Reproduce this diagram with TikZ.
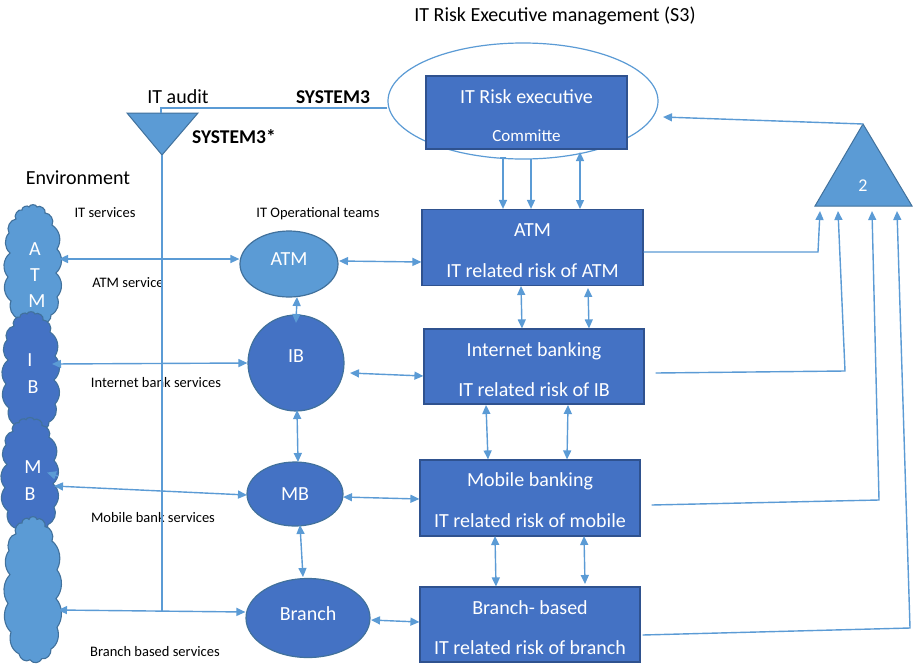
\documentclass[tikz,border=0pt]{standalone}
\usepackage{fontspec}
\setmainfont{Carlito}
\usetikzlibrary{arrows.meta,shapes.geometric,calc}
\definecolor{lblue}{HTML}{5B9BD5}
\definecolor{dblue}{HTML}{4472C4}
\definecolor{bedge}{HTML}{2F528F}
\definecolor{eedge}{HTML}{41719C}
\definecolor{conn}{HTML}{5B9BD5}
\begin{document}
\begin{tikzpicture}[x=1pt,y=-1pt,
  conline/.style={draw=conn,line width=1.4pt},
  arr/.style={conline,-{Triangle[length=9pt,width=8pt]}},
  darr/.style={conline,{Triangle[length=9pt,width=8pt]}-{Triangle[length=9pt,width=8pt]}},
  riskbox/.style={rectangle,draw=bedge,line width=1.2pt,fill=dblue,
    minimum width=220,minimum height=75,inner sep=0},
  boxtxt/.style={text=white,inner sep=0,text height=13pt,text depth=0pt,
    font=\fontsize{20}{24}\selectfont},
  team/.style={ellipse,draw=eedge,line width=1.2pt,text=white,inner sep=0,
    font=\fontsize{20}{24}\selectfont},
  cloudtxt/.style={text=white,font=\fontsize{20}{24}\selectfont,inner sep=0},
  small/.style={font=\fontsize{14.5}{17}\selectfont,inner sep=0},
  big/.style={font=\fontsize{20}{24}\selectfont,inner sep=0},
  heading/.style={font=\fontsize{19.5}{24}\selectfont\bfseries,inner sep=0},
  envcloud/.pic={
    \draw[pic actions] (-17,-46) to[bend left=80] (-11,-55) to[bend left=80] (-4,-58)
      to[bend left=80] (4,-58) to[bend left=80] (12,-52) to[bend left=60] (19,-40)
      to[bend left=45] (24,-16) to[bend left=45] (23,8) to[bend left=45] (24,32)
      to[bend left=45] (18,50) to[bend left=55] (9,58) to[bend left=55] (-3,59)
      to[bend left=55] (-14,54) to[bend left=45] (-22,36) to[bend left=45] (-25,12)
      to[bend left=45] (-23,-12) to[bend left=45] (-24,-32) to[bend left=55] (-17,-46) -- cycle;
  }]
\useasboundingbox (0,0) rectangle (915,670);
\fill[white] (0,0) rectangle (915,670);

% ---- environment clouds (each lower cloud overlaps the one above) ----
\begin{scope}[draw=eedge,line width=1.1pt]
  \pic[fill=lblue] at (33,265) {envcloud};
  \pic[fill=dblue] at (31,372) {envcloud};
  \pic[fill=dblue,yscale=0.97] at (30,476) {envcloud};
  \pic[fill=lblue,yscale=1.2] at (33,589) {envcloud};
\end{scope}
\node[cloudtxt] (la) at (35,249) {A};
\node[cloudtxt] (lt) at (35,275) {T};
\node[cloudtxt] (lm) at (37,301) {M};
\node[cloudtxt] (li) at (30,360) {I};
\node[cloudtxt] (lb) at (33,387) {B};
\node[cloudtxt] (lm2) at (33,467) {M};
\node[cloudtxt] (lb2) at (30,494) {B};

% ---- executive committee ----
\node[big] (title) at (555,16) {IT Risk Executive management (S3)};
\node[ellipse,draw=conn,line width=1.2pt,minimum width=270,minimum height=116,inner sep=0] (exell) at (523,101) {};
\node[riskbox,minimum width=201,minimum height=73] (exec) at (526.5,112.5) {};
\node[boxtxt] (exec1) at ($(exec.center)+(0,-15.5)$) {IT Risk executive};
\node[boxtxt,font=\fontsize{17}{20}\selectfont,text height=11pt] (exec2) at ($(exec.center)+(0,23.5)$) {Committe};

% ---- IT audit (System 3*) ----
\coordinate (audtl) at (127,113);
\coordinate (audtr) at (198,113);
\coordinate (audtip) at (162,155);
\coordinate (audtop) at (161,108);
\draw[draw=eedge,fill=lblue,line width=1pt] (audtl) -- (audtr) -- (audtip) -- cycle;
\node[big] (audit) at (178,97) {IT audit};
\node[heading] (s3) at (333,97) {SYSTEM3};
\node[heading] (s3s) at (234,137) {SYSTEM3*};
\draw[conline,line width=1.2pt] (exell.west |- 0,108) -- (audtop) -- ($(audtop)+(0,5)$);

% ---- labels ----
\node[big] (envlbl) at (78,178) {Environment};
\node[small] (itsv) at (105,213) {IT services};
\node[small] (optm) at (318,214) {IT Operational teams};
\node[small] (atmsv) at (128,283) {ATM service};
\node[small] (ibsv) at (156,383) {Internet bank services};
\node[small] (mbsv) at (153,518) {Mobile bank services};
\node[small] (brsv) at (155,652) {Branch based services};

% ---- IT operational teams ----
\node[team,fill=lblue,minimum width=98,minimum height=66] (tatm) at (289,264) {\raisebox{10pt}{ATM}};
\node[team,fill=dblue,minimum width=96,minimum height=96] (tib) at (296,363) {\raisebox{14pt}{IB}};
\node[team,fill=dblue,minimum width=96,minimum height=64] (tmb) at (295,494) {MB};
\node[team,fill=dblue,minimum width=124,minimum height=79] (tbr) at (308,618) {\raisebox{8pt}{Branch}};

% ---- risk boxes ----
\node[riskbox,minimum width=221,minimum height=76] (ratm) at (532.5,247.5) {};
\node[boxtxt] (ratm1) at ($(ratm.center)+(0,-17.5)$) {ATM};
\node[boxtxt] (ratm2) at ($(ratm.center)+(0,23.5)$) {IT related risk of ATM};
\node[riskbox] (rib) at (534,366.5) {};
\node[boxtxt] (rib1) at ($(rib.center)+(0,-16.5)$) {Internet banking};
\node[boxtxt] (rib2) at ($(rib.center)+(0,23.5)$) {IT related risk of IB};
\node[riskbox,minimum height=76] (rmb) at (530,498) {};
\node[boxtxt] (rmb1) at ($(rmb.center)+(0,-18)$) {Mobile banking};
\node[boxtxt] (rmb2) at ($(rmb.center)+(0,22.5)$) {IT related risk of mobile};
\node[riskbox] (rbr) at (530,624.5) {};
\node[boxtxt] (rbr1) at ($(rbr.center)+(0,-17)$) {Branch- based};
\node[boxtxt] (rbr2) at ($(rbr.center)+(0,23)$) {IT related risk of branch};

% ---- System 2 (coordination) ----
\coordinate (tritop) at (863,124);
\coordinate (tribl) at (815,206);
\coordinate (tribr) at (912,206);
\draw[draw=eedge,fill=lblue,line width=1pt] (tritop) -- (tribr) -- (tribl) -- cycle;
\node[text=white,font=\fontsize{18}{22}\selectfont,inner sep=0] (two) at (863,186) {2};
\draw[arr] (tritop) -- (663,117);

% ---- audit channel ----
\draw[conline,line width=1.2pt] (audtip) -- (162,611);

% ---- environment <-> teams ----
\draw[darr] (59,259) -- (tatm.west |- 0,259);
\draw[darr] (52,364) -- (tib.west |- 0,363);
\draw[darr] (54,486) -- (247,495);
\draw[arr] (58,476) -- (47,472.5);
\draw[darr] (58,610) -- (tbr.west |- 0,612);

% ---- teams among themselves ----
\draw[darr] (297,297) -- (296,323);
\draw[darr] (297,410) -- (298,462);
\draw[darr] (300,525) -- (303,577);

% ---- teams <-> risk boxes ----
\draw[darr] (339,261) -- (ratm.west |- 0,262);
\draw[darr] (350,373) -- (rib.west |- 0,376);
\draw[darr] (343,497) -- (rmb.west |- 0,499);
\draw[darr] (371,620) -- (rbr.west |- 0,622);

% ---- executive <-> ATM risk ----
\draw[conline,line width=1.2pt] (500,158) -- (506,158);
\draw[arr] (503,158) -- (503,0 |- ratm.north);
\draw[arr] (531,159) -- (531,0 |- ratm.north);
\draw[darr] (580,152) -- (580,209);

% ---- between risk boxes ----
\draw[darr] (521,286) -- (522,0 |- rib.north);
\draw[darr] (588,288) -- (589,0 |- rib.north);
\draw[darr] (486,405) -- (488,0 |- rmb.north);
\draw[darr] (568,405) -- (567,0 |- rmb.north);
\draw[darr] (495,536) -- (496,0 |- rbr.north);
\draw[darr] (584,536) -- (585,584);

% ---- risk boxes -> System 2 ----
\draw[arr] (ratm.east |- 0,252) -- (818,252) -- (820,211);
\draw[arr] ($(rib.east |- 0,373)+(11,0)$) -- (845,371) -- (838,211);
\draw[arr] ($(rmb.east |- 0,505)+(11,0)$) -- (879,500) -- (872,211);
\draw[arr] ($(rbr.east |- 0,635)+(2,0)$) -- (910,628) -- (897,211);
\end{tikzpicture}
\end{document}
